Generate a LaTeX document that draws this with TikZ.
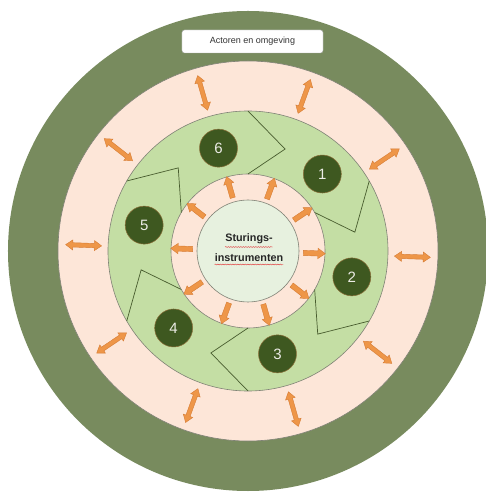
\documentclass[tikz,border=0pt]{standalone}
\usepackage{fontspec}
\setmainfont{Liberation Sans}
\usetikzlibrary{shapes.arrows,decorations.pathmorphing}
\definecolor{rimgreen}{RGB}{120,139,94}
\definecolor{peach}{RGB}{253,230,216}
\definecolor{ringgreen}{RGB}{196,222,164}
\definecolor{corefill}{RGB}{231,241,223}
\definecolor{ringline}{RGB}{128,130,118}
\definecolor{seamline}{RGB}{72,92,46}
\definecolor{discgreen}{RGB}{62,88,32}
\definecolor{discedge}{RGB}{140,112,58}
\definecolor{discfont}{RGB}{236,236,230}
\definecolor{arroworange}{RGB}{238,150,72}
\definecolor{arrowedge}{RGB}{214,124,52}
\definecolor{boxline}{RGB}{170,170,170}
\definecolor{spellred}{RGB}{225,70,70}
\begin{document}
\begin{tikzpicture}[x=1pt,y=1pt,
  ring/.style={draw=ringline, line width=0.6pt},
  seam/.style={draw=seamline, line width=0.7pt, line join=miter},
  stepdisc/.style={circle, fill=discgreen, draw=discedge, line width=0.5pt,
    minimum size=38pt, inner sep=0pt, text=discfont,
    font=\fontsize{15}{15}\selectfont},
  outarrow/.style={single arrow, fill=arroworange, draw=arrowedge, line width=0.4pt,
    minimum height=22pt, minimum width=10pt, inner sep=2.4pt,
    single arrow head extend=2.6pt, single arrow tip angle=70},
  botharrow/.style={double arrow, fill=arroworange, draw=arrowedge, line width=0.4pt,
    minimum height=36pt, minimum width=10pt, inner sep=2pt,
    double arrow head extend=2.8pt, double arrow tip angle=70},
  coretext/.style={font=\bfseries\fontsize{10.8}{12}\selectfont, text={black!85},
    inner sep=0pt, anchor=base},
  spellmark/.style={draw=spellred, line width=0.45pt, decorate,
    decoration={snake, amplitude=0.5pt, segment length=2.5pt}}
]
\useasboundingbox (-248,-241) rectangle (238,251);
\fill[white] (-248,-241) rectangle (238,251);

% concentric bands
\fill[rimgreen] (0,0) circle (240);
\filldraw[fill=peach, ring] (0,0) circle (190);
\filldraw[fill=ringgreen, ring] (0,0) circle (140);
\filldraw[fill=peach, ring] (0,0) circle (77);
\node[circle, fill=corefill, ring, minimum size=102pt, inner sep=0pt] (core) at (0,0) {};

% chevron seams between the six process steps
\foreach \a in {90,30,-30,-90,-150,150}
  \draw[seam] (\a:140) -- ({\a-20}:108.5) -- (\a:77);

% numbered steps
\foreach \k in {1,...,6}
  \node[stepdisc] (disc\k) at ({46-60*(\k-1)}:107) {\k};

% arrows from the core and between the rings
\foreach \k in {0,...,9} {
  \node[outarrow, rotate={106-36*\k}] (spoke\k) at ({106-36*\k}:64.5) {};
  \node[botharrow, rotate={106-36*\k}] (link\k) at ({106-36*\k}:164.5) {};
}

% title box
\node[draw=boxline, fill=white, rounded corners=2.5pt, minimum width=141pt,
  minimum height=23pt, inner sep=0pt, text={black!80},
  font=\fontsize{9}{9}\selectfont] (actors) at (4.5,209.5) {Actoren en omgeving};

% centre label
\node[coretext] (sturings) at (1,9) {Sturings-};
\node[coretext] (instr) at (1,-11) {instrumenten};
\draw[spellmark] ([yshift=-5pt]sturings.base west) -- ([yshift=-5pt]sturings.base east);
\draw[spellmark] ([yshift=-2.5pt]instr.base west) -- ([yshift=-2.5pt]instr.base east);
\end{tikzpicture}
\end{document}
